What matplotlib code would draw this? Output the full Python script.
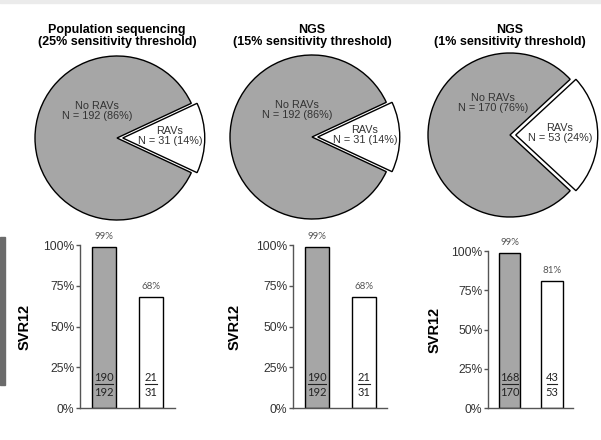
import matplotlib
matplotlib.use("Agg")
import matplotlib.pyplot as plt
from matplotlib.patches import Rectangle
from matplotlib.transforms import offset_copy

# data
titles = ["Population sequencing\n(25% sensitivity threshold)",
          "NGS\n(15% sensitivity threshold)",
          "NGS\n(1% sensitivity threshold)"]
n_rav = [31, 31, 53]
n_norav = [192, 192, 170]
svr_pct = [[99, 68], [99, 68], [99, 81]]
svr_num = [[190, 21], [190, 21], [168, 43]]
svr_den = [[192, 31], [192, 31], [170, 53]]
yticks = [0, 25, 50, 75, 100]

W, H = 601, 440
GRAY = "#a6a6a6"
TXT = "#333333"

plt.rcParams["font.family"] = ["Liberation Sans", "DejaVu Sans"]
fig = plt.figure(figsize=(W / 100, H / 100), dpi=100)


def box(x0, y0, x1, y1):
    return [x0 / W, 1 - y1 / H, (x1 - x0) / W, (y1 - y0) / H]


# decoration strips from the source image
fig.patches.append(Rectangle((0, 1 - 3 / H), 1, 3 / H, transform=fig.transFigure,
                             color="#ebebeb", zorder=0))
fig.patches.append(Rectangle((0, 1 - 385 / H), 5 / W, 148 / H, transform=fig.transFigure,
                             color="#6b6b6b", zorder=0))

# pies
pie_c = [(117, 138), (312, 137), (510, 135)]
R = 82.0
L = 200.0
lab_no = [(-20, 27), (-15, 27), (-17, 32)]
lab_rav = [(53, 2), (53, 2), (50, 2)]
for i in range(3):
    cx, cy = pie_c[i]
    ax = fig.add_axes(box(cx - L / 2, cy - L / 2, cx + L / 2, cy + L / 2))
    tot = n_rav[i] + n_norav[i]
    ang = 180.0 * n_rav[i] / tot
    ax.pie([n_rav[i], n_norav[i]], colors=["white", GRAY], startangle=-ang,
           explode=[0.07, 0], counterclock=True,
           wedgeprops=dict(edgecolor="black", linewidth=1.0))
    ax.set_xlim(-L / 2 / R, L / 2 / R)
    ax.set_ylim(-L / 2 / R, L / 2 / R)
    ax.set_aspect("equal")
    ax.axis("off")
    ax.text(lab_no[i][0] / R, lab_no[i][1] / R,
            "No RAVs\nN = %d (%d%%)" % (n_norav[i], round(100 * n_norav[i] / tot)),
            ha="center", va="center", fontsize=7.8, color=TXT, linespacing=1.05)
    ax.text(lab_rav[i][0] / R, lab_rav[i][1] / R,
            "RAVs\nN = %d (%d%%)" % (n_rav[i], round(100 * n_rav[i] / tot)),
            ha="center", va="center", fontsize=7.8, color=TXT, linespacing=1.05)
    fig.text(cx / W, 1 - 36 / H, titles[i], ha="center", va="center",
             fontsize=9, fontweight="bold", linespacing=1.0)

# bar charts
bar_box = [(80, 245, 175, 408), (293, 245, 387, 408), (488, 251, 573, 408)]
ylab_x = [32, 242, 442]
for i in range(3):
    ax = fig.add_axes(box(*bar_box[i]))
    xs = [0, 1]
    ax.bar(xs, [v / 100 for v in svr_pct[i]], width=0.51, color=[GRAY, "white"],
           edgecolor="black", linewidth=1.0, zorder=2)
    ax.set_xlim(-0.51, 1.5)
    ax.set_ylim(0, 1)
    ax.set_yticks([t / 100 for t in yticks])
    ax.set_yticklabels(["%d%%" % t for t in yticks])
    ax.set_xticks([])
    for s in ["top", "right"]:
        ax.spines[s].set_visible(False)
    for s in ["left", "bottom"]:
        ax.spines[s].set_color("#555555")
        ax.spines[s].set_linewidth(1.0)
    ax.tick_params(axis="y", direction="out", length=3, width=1, color="#555555",
                   labelsize=8.7, labelcolor=TXT, pad=1)
    ax.patch.set_visible(False)
    ax.set_ylabel("SVR12", fontsize=10.5, fontweight="bold", labelpad=6)
    ax.yaxis.set_label_coords((ylab_x[i] - bar_box[i][0]) / (bar_box[i][2] - bar_box[i][0]), 0.5)
    for j in xs:
        ax.annotate("%d%%" % svr_pct[i][j], (j, svr_pct[i][j] / 100), xytext=(0, 7.5),
                    textcoords="offset points", ha="center", va="center",
                    fontsize=7, color="#555555", family=["Lato", "DejaVu Sans"],
                    annotation_clip=False)
        num = str(svr_num[i][j])
        ax.annotate(num, (j, 0), xytext=(0, 22.3), textcoords="offset points",
                    ha="center", va="center", fontsize=8, color="#222222",
                    family=["Lato", "DejaVu Sans"], zorder=3)
        ax.annotate(str(svr_den[i][j]), (j, 0), xytext=(0, 11.5), textcoords="offset points",
                    ha="center", va="center", fontsize=8, color="#222222",
                    family=["Lato", "DejaVu Sans"], zorder=3)
        hw = 0.063 * len(num)
        tr = offset_copy(ax.transData, fig=fig, y=17.5, units="points")
        ax.plot([j - hw, j + hw], [0, 0], transform=tr, color="#222222", lw=0.8, zorder=3)

fig.savefig("out.png", dpi=100)
